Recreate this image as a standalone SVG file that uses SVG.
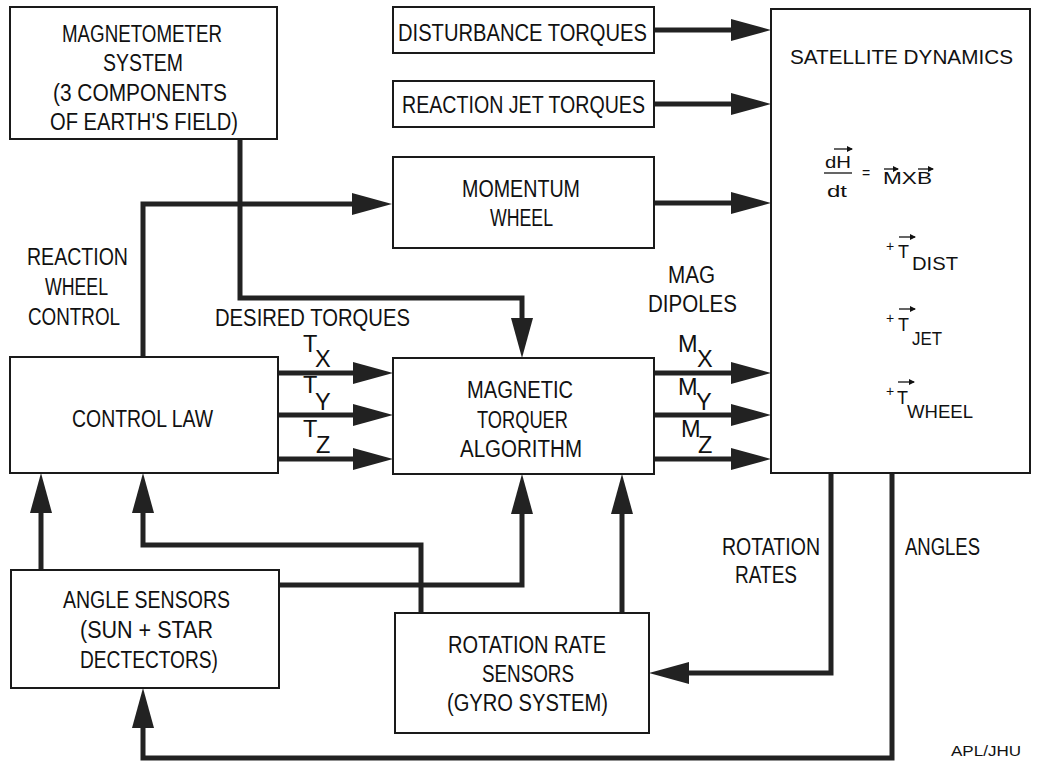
<svg xmlns="http://www.w3.org/2000/svg" width="1037" height="764" viewBox="0 0 1037 764">
<style>
.box{fill:#fff;stroke:#1a1a1a;stroke-width:2}
.t{font-family:"Liberation Sans",Arial,sans-serif;font-size:23.5px;fill:#111}
.s{font-family:"Liberation Sans",Arial,sans-serif;font-size:18px;fill:#111}
.e{font-family:"Liberation Sans",Arial,sans-serif;font-size:17px;fill:#111}
.p{font-family:"Liberation Sans",Arial,sans-serif;font-size:14px;fill:#111}
.f{font-family:"Liberation Sans",Arial,sans-serif;font-size:14px;fill:#111}
.c{fill:none;stroke:#222;stroke-width:5;stroke-linejoin:miter}
.v{stroke:#111;stroke-width:1.3;fill:none}
</style>
<defs>
<marker id="ah" viewBox="0 0 40 22" refX="2" refY="11" markerWidth="40" markerHeight="22" markerUnits="userSpaceOnUse" orient="auto">
<path d="M0,0 L40,11 L0,22 Z" fill="#222"/>
</marker>
<marker id="va" viewBox="0 0 6 6" refX="5" refY="3" markerWidth="6" markerHeight="6" markerUnits="userSpaceOnUse" orient="auto">
<path d="M0,0 L6,3 L0,6 Z" fill="#111"/>
</marker>
</defs>
<rect width="1037" height="764" fill="#fff"/>

<g id="connectors">
<path class="c" d="M654,30 H733" marker-end="url(#ah)"/>
<path class="c" d="M654,104 H733" marker-end="url(#ah)"/>
<path class="c" d="M654,203 H733" marker-end="url(#ah)"/>
<path class="c" d="M143,357 V204 H354" marker-end="url(#ah)"/>
<path class="c" d="M240,139 V298 H522 V320" marker-end="url(#ah)"/>
<path class="c" d="M278,373 H355" marker-end="url(#ah)"/>
<path class="c" d="M278,415 H355" marker-end="url(#ah)"/>
<path class="c" d="M278,459 H355" marker-end="url(#ah)"/>
<path class="c" d="M654,373 H733" marker-end="url(#ah)"/>
<path class="c" d="M654,415 H733" marker-end="url(#ah)"/>
<path class="c" d="M654,459 H733" marker-end="url(#ah)"/>
<path class="c" d="M41,570 V511" marker-end="url(#ah)"/>
<path class="c" d="M421,613 V545 H143 V511" marker-end="url(#ah)"/>
<path class="c" d="M279,585 H522 V512" marker-end="url(#ah)"/>
<path class="c" d="M622,613 V512" marker-end="url(#ah)"/>
<path class="c" d="M831,473 V673 H687" marker-end="url(#ah)"/>
<path class="c" d="M892,473 V758 H143 V726" marker-end="url(#ah)"/>
</g>

<g id="magnetometer">
<rect class="box" x="10" y="7" width="267" height="132"/>
<text class="t" x="62" y="42" textLength="160" lengthAdjust="spacingAndGlyphs">MAGNETOMETER</text>
<text class="t" x="103" y="71" textLength="80" lengthAdjust="spacingAndGlyphs">SYSTEM</text>
<text class="t" x="53" y="101" textLength="174" lengthAdjust="spacingAndGlyphs">(3 COMPONENTS</text>
<text class="t" x="50" y="130" textLength="188" lengthAdjust="spacingAndGlyphs">OF EARTH'S FIELD)</text>
</g>

<g id="disturbance">
<rect class="box" x="393" y="7" width="261" height="46"/>
<text class="t" x="398" y="41" textLength="249" lengthAdjust="spacingAndGlyphs">DISTURBANCE TORQUES</text>
</g>

<g id="reactionjet">
<rect class="box" x="393" y="81" width="261" height="46"/>
<text class="t" x="402" y="113" textLength="243" lengthAdjust="spacingAndGlyphs">REACTION JET TORQUES</text>
</g>

<g id="momentum">
<rect class="box" x="393" y="157" width="261" height="91"/>
<text class="t" x="462" y="197" textLength="118" lengthAdjust="spacingAndGlyphs">MOMENTUM</text>
<text class="t" x="490" y="226" textLength="63" lengthAdjust="spacingAndGlyphs">WHEEL</text>
</g>

<g id="satellite">
<rect class="box" x="771" y="9" width="259" height="464"/>
<text class="t" x="790" y="64" style="font-size:21px" textLength="223" lengthAdjust="spacingAndGlyphs">SATELLITE DYNAMICS</text>
<text class="e" x="825" y="168" textLength="26" lengthAdjust="spacingAndGlyphs">dH</text>
<line class="v" x1="834" y1="149" x2="852" y2="149" marker-end="url(#va)"/>
<line x1="824" y1="173" x2="852" y2="173" stroke="#111" stroke-width="1.3"/>
<text class="e" x="827" y="197" textLength="20" lengthAdjust="spacingAndGlyphs">dt</text>
<text class="p" x="862" y="178">=</text>
<text class="e" x="883" y="184" textLength="49" lengthAdjust="spacingAndGlyphs">MXB</text>
<line class="v" x1="884" y1="169" x2="898" y2="169" marker-end="url(#va)"/>
<line class="v" x1="918" y1="169" x2="933" y2="169" marker-end="url(#va)"/>
<text class="p" x="886" y="251">+</text>
<text class="s" x="898" y="258">T</text>
<line class="v" x1="899" y1="237" x2="915" y2="237" marker-end="url(#va)"/>
<text class="s" x="912" y="270" textLength="46" lengthAdjust="spacingAndGlyphs">DIST</text>
<text class="p" x="886" y="323">+</text>
<text class="s" x="898" y="331">T</text>
<line class="v" x1="899" y1="309" x2="915" y2="309" marker-end="url(#va)"/>
<text class="s" x="912" y="345" textLength="30" lengthAdjust="spacingAndGlyphs">JET</text>
<text class="p" x="886" y="396">+</text>
<text class="s" x="897" y="404">T</text>
<line class="v" x1="898" y1="382" x2="914" y2="382" marker-end="url(#va)"/>
<text class="s" x="907" y="418" textLength="66" lengthAdjust="spacingAndGlyphs">WHEEL</text>
</g>

<g id="controllaw">
<rect class="box" x="10" y="357" width="268" height="116"/>
<text class="t" x="72" y="427" textLength="141" lengthAdjust="spacingAndGlyphs">CONTROL LAW</text>
</g>

<g id="torquer">
<rect class="box" x="393" y="358" width="261" height="116"/>
<text class="t" x="467" y="398" textLength="106" lengthAdjust="spacingAndGlyphs">MAGNETIC</text>
<text class="t" x="477" y="428" textLength="91" lengthAdjust="spacingAndGlyphs">TORQUER</text>
<text class="t" x="460" y="457" textLength="122" lengthAdjust="spacingAndGlyphs">ALGORITHM</text>
</g>

<g id="anglesensors">
<rect class="box" x="11" y="570" width="268" height="118"/>
<text class="t" x="63" y="608" textLength="167" lengthAdjust="spacingAndGlyphs">ANGLE SENSORS</text>
<text class="t" x="80" y="638" textLength="133" lengthAdjust="spacingAndGlyphs">(SUN + STAR</text>
<text class="t" x="80" y="668" textLength="138" lengthAdjust="spacingAndGlyphs">DECTECTORS)</text>
</g>

<g id="ratesensors">
<rect class="box" x="395" y="613" width="254" height="120"/>
<text class="t" x="448" y="653" textLength="158" lengthAdjust="spacingAndGlyphs">ROTATION RATE</text>
<text class="t" x="482" y="682" textLength="92" lengthAdjust="spacingAndGlyphs">SENSORS</text>
<text class="t" x="447" y="711" textLength="161" lengthAdjust="spacingAndGlyphs">(GYRO SYSTEM)</text>
</g>

<g id="labels">
<text class="t" x="27" y="265" textLength="101" lengthAdjust="spacingAndGlyphs">REACTION</text>
<text class="t" x="45" y="295" textLength="63" lengthAdjust="spacingAndGlyphs">WHEEL</text>
<text class="t" x="28" y="325" textLength="92" lengthAdjust="spacingAndGlyphs">CONTROL</text>
<text class="t" x="215" y="326" textLength="195" lengthAdjust="spacingAndGlyphs">DESIRED TORQUES</text>
<text class="t" x="303" y="352">T</text><text class="t" x="315" y="367">X</text>
<text class="t" x="303" y="393">T</text><text class="t" x="315" y="410">Y</text>
<text class="t" x="303" y="437">T</text><text class="t" x="316" y="453">Z</text>
<text class="t" x="668" y="283" textLength="47" lengthAdjust="spacingAndGlyphs">MAG</text>
<text class="t" x="648" y="312" textLength="89" lengthAdjust="spacingAndGlyphs">DIPOLES</text>
<text class="t" x="678" y="352">M</text><text class="t" x="697" y="367">X</text>
<text class="t" x="678" y="395">M</text><text class="t" x="696" y="410">Y</text>
<text class="t" x="681" y="437">M</text><text class="t" x="698" y="453">Z</text>
<text class="t" x="722" y="555" textLength="98" lengthAdjust="spacingAndGlyphs">ROTATION</text>
<text class="t" x="735" y="583" textLength="62" lengthAdjust="spacingAndGlyphs">RATES</text>
<text class="t" x="905" y="555" textLength="75" lengthAdjust="spacingAndGlyphs">ANGLES</text>
<text class="f" x="951" y="756" textLength="70" lengthAdjust="spacingAndGlyphs">APL/JHU</text>
</g>
</svg>
